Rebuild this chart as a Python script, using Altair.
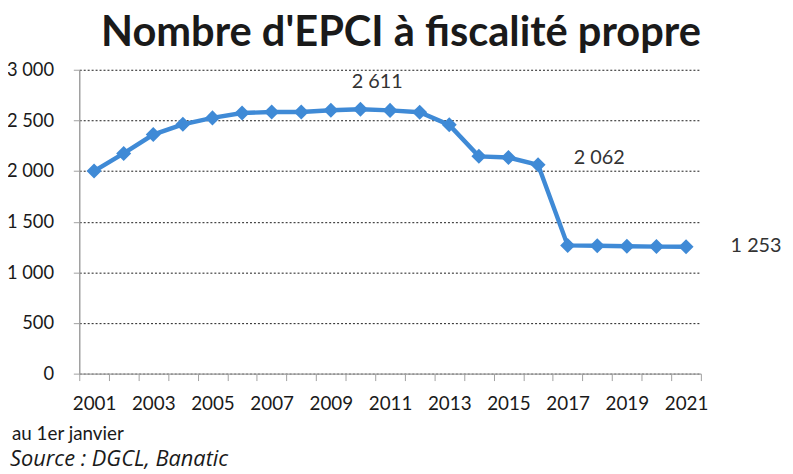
import altair as alt
import pandas as pd

years = list(range(2001, 2022))
counts = [2000, 2174, 2360, 2461, 2525, 2573, 2583, 2583, 2601, 2611, 2599,
          2581, 2456, 2145, 2133, 2062, 1266, 1263, 1258, 1254, 1253]

label_years = [2010, 2016, 2021]
label_texts = ["2 611", "2 062", "1 253"]

y_ticks = [0, 500, 1000, 1500, 2000, 2500, 3000]
x_label_years = [y for y in years if y % 2 == 1]
x_tick_bounds = [y - 0.5 for y in years] + [years[-1] + 0.5]

FONT = "Lato"
BLUE = "#3f8ad6"

df = pd.DataFrame({"year": years, "count": counts})
lab = pd.DataFrame({"year": label_years, "count": [counts[years.index(y)] for y in label_years],
                    "label": label_texts})

W, H = 628, 307
xscale = alt.Scale(domain=[years[0] - 0.5, years[-1] + 0.5], nice=False, zero=False)
yscale = alt.Scale(domain=[0, 3000], nice=False)

yaxis = alt.Axis(values=y_ticks, title=None, grid=True, gridColor="#000000",
                 gridDash=[2, 2], gridWidth=1, gridOpacity=0.9,
                 domainColor="#a0a0a0", domainWidth=1.5, tickColor="#a0a0a0", tickSize=6,
                 labelFont=FONT, labelFontSize=18.5, labelColor="#1a1a1a", labelPadding=20,
                 labelExpr="replace(format(datum.value, ','), ',', ' ')")

base = alt.Chart(df)

line = base.mark_line(color=BLUE, strokeWidth=4.5).encode(
    x=alt.X("year:Q", scale=xscale,
            axis=alt.Axis(values=x_label_years, format="d", title=None, grid=False,
                          ticks=False, domainColor="#a0a0a0", domainWidth=1.5,
                          labelFont=FONT, labelFontSize=19, labelColor="#1a1a1a",
                          labelPadding=21, orient="bottom")),
    y=alt.Y("count:Q", scale=yscale, axis=yaxis),
)

points = base.mark_point(shape="diamond", filled=True, size=230, color=BLUE, opacity=1).encode(
    x=alt.X("year:Q", scale=xscale,
            axis=alt.Axis(values=x_tick_bounds, labels=False, title=None, grid=False,
                          domain=False, ticks=True, tickColor="#a0a0a0", tickSize=7,
                          orient="bottom")),
    y=alt.Y("count:Q", scale=yscale),
)

offsets = {2010: (17, -27, "center"), 2016: (36, -7, "left"), 2021: (45, -1, "left")}
texts = []
for yr in label_years:
    dx, dy, al = offsets[yr]
    texts.append(
        alt.Chart(lab).transform_filter(alt.datum.year == yr).mark_text(
            font=FONT, fontSize=20, color="#333333", dx=dx, dy=dy, align=al, baseline="middle"
        ).encode(x=alt.X("year:Q", scale=xscale, axis=None),
                 y=alt.Y("count:Q", scale=yscale), text="label:N")
    )

note1 = alt.Chart(pd.DataFrame({"t": ["au 1er janvier"]})).mark_text(
    font=FONT, fontSize=19, color="#1a1a1a", align="left", baseline="middle"
).encode(x=alt.value(-68), y=alt.value(H + 61), text="t:N")
note2 = alt.Chart(pd.DataFrame({"t": ["Source : DGCL, Banatic"]})).mark_text(
    font="Open Sans", fontSize=22, fontStyle="italic", color="#1a1a1a", align="left",
    baseline="middle"
).encode(x=alt.value(-70), y=alt.value(H + 86), text="t:N")

chart = alt.layer(line, points, *texts, note1, note2).resolve_axis(x="independent").properties(
    width=W, height=H,
    title=alt.TitleParams("Nombre d'EPCI à fiscalité propre", font=FONT, fontSize=42,
                          fontWeight="bold", color="#1a1a1a", anchor="middle", offset=6, dx=11),
    autosize=alt.AutoSizeParams(type="none"),
    padding={"left": 72, "top": 60, "right": 85, "bottom": 99},
).configure_view(stroke=None)

chart.save("out.html", embed_options={"renderer": "svg", "actions": False})
